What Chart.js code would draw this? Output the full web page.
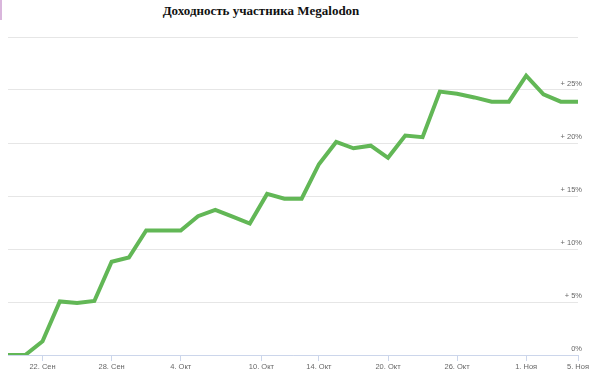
<!DOCTYPE html>
<html>
<head>
<meta charset="utf-8">
<script src="https://cdn.jsdelivr.net/npm/chart.js@4/dist/chart.umd.min.js"></script>
<style>
  html, body { margin: 0; padding: 0; background: #fff; overflow: hidden; }
  #wrap { position: relative; width: 590px; height: 372px; }
  #title { position: absolute; left: 0; width: 522px; top: 3px; text-align: center;
           font: bold 13px "Liberation Serif", serif; color: #111; }
  #mark { position: absolute; left: 0; top: 0; width: 2px; height: 20px; background: #d9b6dc; }
  canvas { position: absolute; left: 0; top: 0; }
</style>
</head>
<body>
<div id="wrap">
  <div id="mark"></div>
  <div id="title">Доходность участника Megalodon</div>
  <canvas id="chart" width="590" height="372"></canvas>
</div>
<script>
// trading days, 20 Sep - 5 Nov
var dates = ["20.09","21.09","22.09","23.09","24.09","27.09","28.09","29.09","30.09","01.10",
             "04.10","05.10","06.10","07.10","08.10","11.10","12.10","13.10","14.10","15.10",
             "18.10","19.10","20.10","21.10","22.10","25.10","26.10","27.10","28.10","29.10",
             "01.11","02.11","03.11","05.11"];
var profit = [0, 0, 1.3, 5.05, 4.9, 5.1, 8.8, 9.2, 11.75, 11.75,
              11.75, 13.1, 13.7, 13.05, 12.4, 15.2, 14.75, 14.75, 18.0, 20.1,
              19.5, 19.75, 18.6, 20.7, 20.55, 24.85, 24.65, 24.3, 23.9, 23.9,
              26.35, 24.6, 23.9, 23.9];
// x tick positions (ordinal index; 10 Oct falls on the weekend gap)
var tickPos = [2, 6, 10, 14.67, 18, 22, 26, 30, 33];
var tickLabels = ["22. Сен", "28. Сен", "4. Окт", "10. Окт", "14. Окт", "20. Окт", "26. Окт", "1. Ноя", "5. Ноя"];
var yTicks = [0, 5, 10, 15, 20, 25, 30];

var points = [];
for (var i = 0; i < profit.length; i++) {
  points.push({ x: i, y: profit[i] });
}

var ctx = document.getElementById("chart").getContext("2d");
var chart = new Chart(ctx, {
  type: "line",
  data: {
    datasets: [{
      label: "Megalodon",
      data: points,
      borderColor: "#62b756",
      borderWidth: 4,
      pointRadius: 0,
      tension: 0,
      fill: false
    }]
  },
  options: {
    responsive: false,
    animation: false,
    layout: { padding: { left: 8, right: 8, top: 37, bottom: 0 } },
    plugins: { legend: { display: false }, tooltip: { enabled: false }, title: { display: false } },
    scales: {
      x: {
        type: "linear",
        min: 0,
        max: profit.length - 1,
        afterBuildTicks: function (scale) {
          scale.ticks = tickPos.map(function (v) { return { value: v }; });
        },
        ticks: {
          autoSkip: false,
          maxRotation: 0,
          padding: 1,
          color: "#666",
          font: { family: "Liberation Sans", size: 7.5 },
          callback: function (value, index) { return tickLabels[index]; }
        },
        grid: { drawOnChartArea: false, drawTicks: true, tickLength: 6, color: "#ccd6eb" },
        border: { color: "#ccd6eb", width: 1 }
      },
      y: {
        position: "right",
        min: 0,
        max: 30,
        afterBuildTicks: function (scale) {
          scale.ticks = yTicks.map(function (v) { return { value: v }; });
        },
        afterFit: function (scale) {
          scale.width = 0;
        },
        ticks: {
          mirror: true,
          padding: 4,
          labelOffset: -6,
          color: "#666",
          font: { family: "Liberation Sans", size: 7.5 },
          callback: function (value) {
            if (value === 30) return "";
            return value === 0 ? "0%" : "+ " + value + "%";
          }
        },
        grid: { color: "#e6e6e6", drawTicks: false },
        border: { display: false }
      }
    }
  }
});
</script>
</body>
</html>
